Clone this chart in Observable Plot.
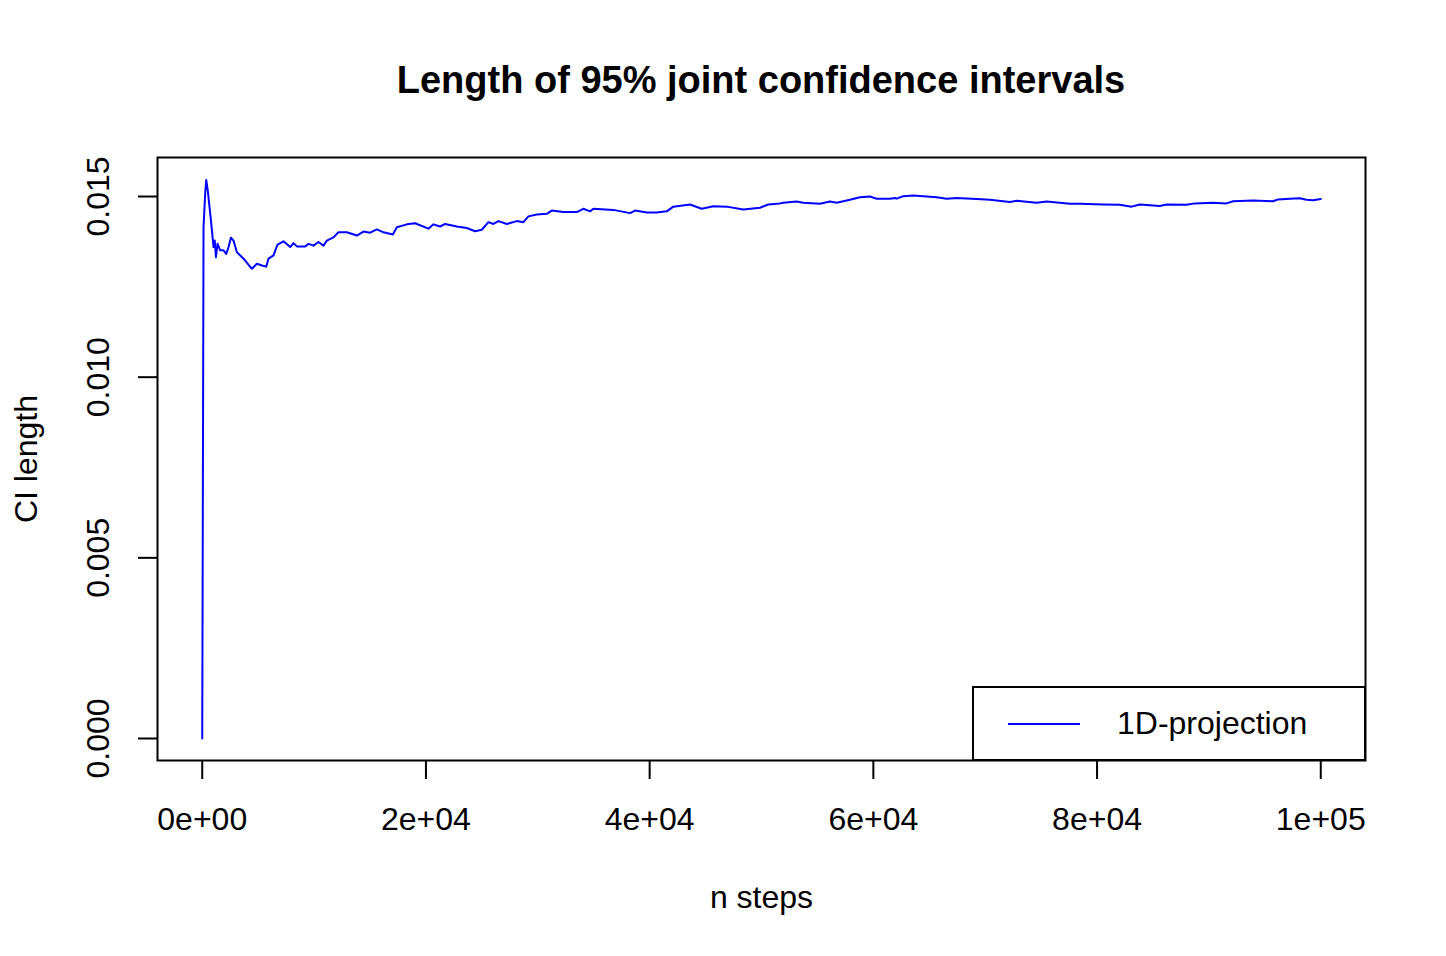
<!DOCTYPE html>
<html>
<head>
<meta charset="utf-8">
<script src="https://cdn.jsdelivr.net/npm/d3@7"></script>
<script src="https://cdn.jsdelivr.net/npm/@observablehq/plot@0.6"></script>
<style>
  html, body { margin: 0; padding: 0; background: #ffffff; }
  #wrap { position: relative; width: 1446px; height: 956px; font-family: "Liberation Sans", Arial, Helvetica, sans-serif; color: #000; }
  #title { position: absolute; left: 157px; width: 1208px; top: 61px; text-align: center; font-weight: bold; font-size: 38px; line-height: 38px; white-space: nowrap; }
  #chart { position: absolute; left: 0; top: 120px; }
  #legend { position: absolute; left: 972px; top: 686px; width: 394px; height: 75px; box-sizing: border-box; border: 2px solid #000; background: #fff; }
  #legend svg { position: absolute; left: 0; top: 0; }
  #legend span { position: absolute; left: 143px; top: 19px; font-size: 32px; line-height: 32px; white-space: nowrap; }
</style>
</head>
<body>
<div id="wrap">
  <div id="title">Length of 95% joint confidence intervals</div>
  <div id="chart"></div>
  <div id="legend">
    <svg width="394" height="75"><line x1="34" x2="106" y1="36" y2="36" stroke="#0000ff" stroke-width="2"></line></svg>
    <span>1D-projection</span>
  </div>
</div>
<script>
// ---- data ----
const steps = [
  0, 116, 268, 357, 492, 777, 1010, 1117, 1224, 1367, 1609, 1904, 2145, 2350, 2565, 2797, 3101, 3691,
  4442, 4888, 5335, 5719, 5925, 6372, 6729, 7266, 7864, 8159, 8463, 9205, 9500, 9947, 10393, 10840,
  11144, 11734, 12181, 12932, 13825, 14415, 15014, 15613, 16202, 17043, 17400, 18294, 19035, 20224,
  20671, 21269, 21716, 22762, 23656, 24397, 24996, 25586, 26033, 26480, 27230, 28124, 28714, 29161,
  29911, 30805, 31252, 32289, 33486, 34076, 34674, 34969, 36756, 38249, 38696, 39741, 40635, 41529,
  42118, 43611, 44657, 45693, 46891, 48374, 49866, 50608, 51654, 51949, 53147, 53736, 55228, 56122,
  56721, 57910, 58803, 59697, 60296, 61484, 61931, 62083, 62673, 63567, 64764, 65658, 66551, 67445,
  69232, 70420, 72208, 72807, 74594, 75488, 77570, 78463, 80546, 82038, 83084, 83826, 85613, 86212,
  87999, 88741, 90376, 91574, 92164, 93951, 95739, 96186, 97231, 98125, 98723, 99313, 100000
];
const ciLength = [
  0.00000, 0.01415, 0.01511, 0.01546, 0.01517, 0.01434, 0.01360, 0.01378, 0.01332, 0.01369, 0.01351,
  0.01351, 0.01341, 0.01360, 0.01386, 0.01378, 0.01346, 0.01328, 0.01300, 0.01314, 0.01309, 0.01306,
  0.01328, 0.01337, 0.01367, 0.01376, 0.01360, 0.01371, 0.01362, 0.01362, 0.01369, 0.01364, 0.01374,
  0.01364, 0.01378, 0.01387, 0.01401, 0.01401, 0.01392, 0.01403, 0.01400, 0.01409, 0.01401, 0.01395,
  0.01415, 0.01423, 0.01426, 0.01411, 0.01423, 0.01417, 0.01424, 0.01417, 0.01413, 0.01404, 0.01408,
  0.01429, 0.01424, 0.01432, 0.01424, 0.01432, 0.01429, 0.01445, 0.01450, 0.01452, 0.01461, 0.01457,
  0.01457, 0.01466, 0.01459, 0.01466, 0.01463, 0.01454, 0.01461, 0.01456, 0.01456, 0.01459, 0.01472,
  0.01478, 0.01466, 0.01473, 0.01472, 0.01464, 0.01469, 0.01478, 0.01481, 0.01483, 0.01486, 0.01483,
  0.01480, 0.01486, 0.01483, 0.01491, 0.01498, 0.01500, 0.01494, 0.01494, 0.01496, 0.01494, 0.01501,
  0.01503, 0.01500, 0.01498, 0.01494, 0.01496, 0.01493, 0.01491, 0.01485, 0.01488, 0.01483, 0.01486,
  0.01480, 0.01480, 0.01478, 0.01477, 0.01472, 0.01478, 0.01474, 0.01478, 0.01477, 0.01481, 0.01483,
  0.01481, 0.01487, 0.01489, 0.01487, 0.01492, 0.01494, 0.01495, 0.01491, 0.01490, 0.01493
];
const xTicks = [0, 20000, 40000, 60000, 80000, 100000];
const xTickLabels = ["0e+00", "2e+04", "4e+04", "6e+04", "8e+04", "1e+05"];
const yTicks = [0, 0.005, 0.010, 0.015];
const yTickLabels = ["0.000", "0.005", "0.010", "0.015"];
const xTitle = "n steps";
const yTitle = "CI length";

const table = steps.map((s, i) => ({step: s, ci: ciLength[i]}));
const font = "Liberation Sans, Arial, Helvetica, sans-serif";

const chart = Plot.plot({
  width: 1446,
  height: 836,
  marginTop: 37,
  marginBottom: 196,
  marginLeft: 157,
  marginRight: 81,
  style: {fontFamily: font, fontSize: "32px", color: "#000", background: "#fff", overflow: "visible"},
  x: {domain: [-4000, 104000]},
  y: {domain: [-0.000609, 0.01608]},
  marks: [
    Plot.axisX({
      ticks: xTicks,
      tickFormat: d => xTickLabels[xTicks.indexOf(d)],
      tickSize: 19,
      tickPadding: 28,
      strokeWidth: 2,
      fontSize: 32,
      fontFamily: font,
      label: null
    }),
    Plot.axisY({
      ticks: yTicks,
      tickFormat: d => yTickLabels[yTicks.indexOf(d)],
      tickSize: 19,
      tickPadding: 29.5,
      tickRotate: -90,
      textAnchor: "middle",
      lineAnchor: "bottom",
      strokeWidth: 2,
      fontSize: 32,
      fontFamily: font,
      label: null
    }),
    Plot.text([xTitle], {frameAnchor: "bottom", dy: 147, lineAnchor: "bottom", fontSize: 32, fontFamily: font, fill: "#000"}),
    Plot.text([yTitle], {frameAnchor: "left", dx: -121, rotate: -90, textAnchor: "middle", lineAnchor: "bottom", fontSize: 32, fontFamily: font, fill: "#000"}),
    Plot.line(table, {x: "step", y: "ci", stroke: "#0000ff", strokeWidth: 2}),
    Plot.frame({stroke: "#000", strokeWidth: 2})
  ]
});
document.getElementById("chart").appendChild(chart);
</script>
</body>
</html>
